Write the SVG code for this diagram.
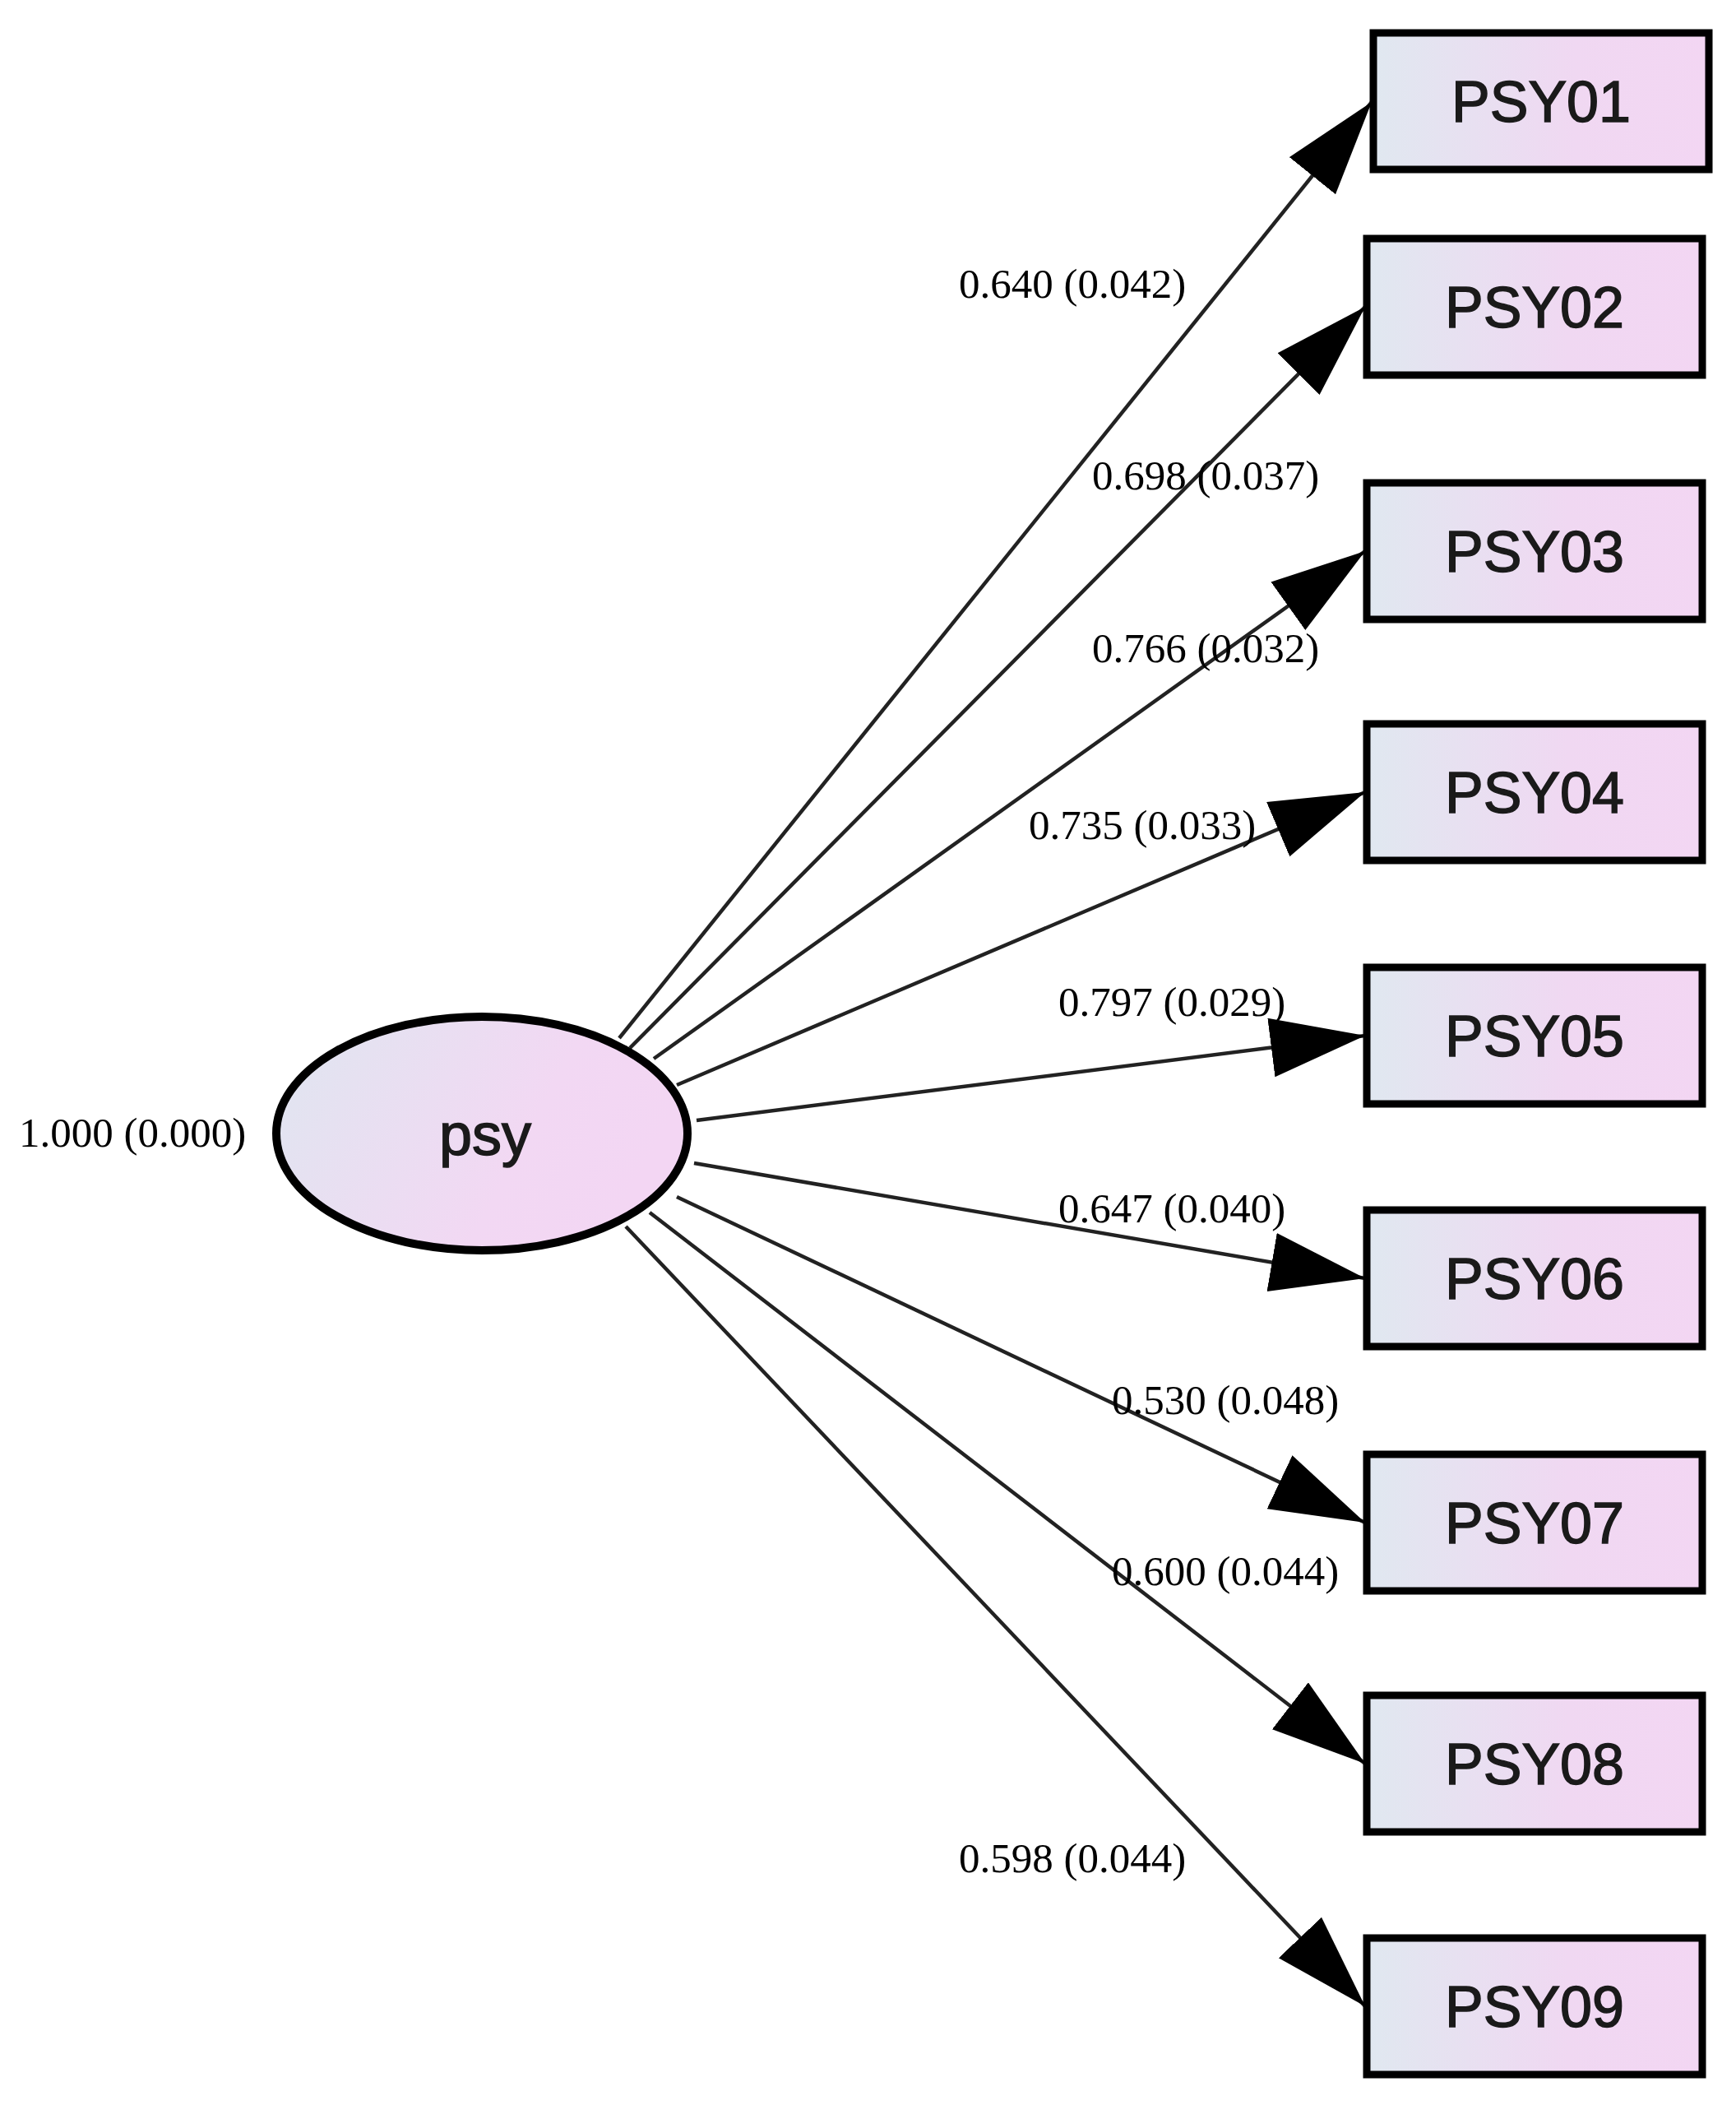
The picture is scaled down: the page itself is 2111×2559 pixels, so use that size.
<svg xmlns="http://www.w3.org/2000/svg" width="2111" height="2559" viewBox="0 0 2111 2559">
<defs>
<linearGradient id="g" x1="0" y1="0" x2="1" y2="0"><stop offset="0" stop-color="#e0e8f0"/><stop offset="0.6" stop-color="#f0d8f2"/><stop offset="1" stop-color="#f3d6f3"/></linearGradient>
<linearGradient id="ge" x1="0" y1="0" x2="1" y2="0.3"><stop offset="0" stop-color="#dfe6f0"/><stop offset="0.7" stop-color="#f2d8f3"/><stop offset="1" stop-color="#f3d6f3"/></linearGradient>
<marker id="ah" markerUnits="userSpaceOnUse" markerWidth="120" markerHeight="80" refX="115" refY="36" orient="auto"><path d="M0,0 L115,36 L0,72 Z" fill="#000"/></marker>
</defs>
<style>
.box{fill:url(#g);stroke:#000;stroke-width:9}
.lbl{font-family:"Liberation Sans",Arial,sans-serif;font-size:70px;text-anchor:middle;fill:#1a1a1a;stroke:#1a1a1a;stroke-width:1.5}
.est{font-family:"Liberation Serif","Times New Roman",serif;font-size:51px;fill:#000}
.c{stroke:#222;stroke-width:4.5;fill:none;marker-end:url(#ah)}
</style>
<g id="connectors">
<line class="c" x1="753" y1="1262" x2="1668" y2="124"/>
<line class="c" x1="766" y1="1274" x2="1660" y2="373"/>
<line class="c" x1="795" y1="1287" x2="1660" y2="670"/>
<line class="c" x1="823" y1="1319" x2="1660" y2="963"/>
<line class="c" x1="847" y1="1362" x2="1660" y2="1259"/>
<line class="c" x1="844" y1="1414" x2="1660" y2="1554"/>
<line class="c" x1="823" y1="1455" x2="1660" y2="1851"/>
<line class="c" x1="790" y1="1474" x2="1660" y2="2144"/>
<line class="c" x1="761" y1="1491" x2="1660" y2="2439"/>
</g>
<g id="labels">
<text class="est" x="1166" y="362">0.640 (0.042)</text>
<text class="est" x="1328" y="595">0.698 (0.037)</text>
<text class="est" x="1328" y="805">0.766 (0.032)</text>
<text class="est" x="1251" y="1020">0.735 (0.033)</text>
<text class="est" x="1287" y="1235">0.797 (0.029)</text>
<text class="est" x="1287" y="1486">0.647 (0.040)</text>
<text class="est" x="1352" y="1719">0.530 (0.048)</text>
<text class="est" x="1352" y="1927">0.600 (0.044)</text>
<text class="est" x="1166" y="2276">0.598 (0.044)</text>
<text class="est" x="23" y="1394">1.000 (0.000)</text>
</g>
<g id="psy"><ellipse cx="586" cy="1378" rx="250" ry="142" fill="url(#ge)" stroke="#000" stroke-width="10"/><text class="lbl" x="590" y="1404" style="font-size:72px">psy</text></g>
<g id="PSY01"><rect class="box" x="1670" y="40" width="408" height="166"/><text class="lbl" x="1874" y="148">PSY01</text></g>
<g id="PSY02"><rect class="box" x="1662" y="290" width="408" height="166"/><text class="lbl" x="1866" y="398">PSY02</text></g>
<g id="PSY03"><rect class="box" x="1662" y="587" width="408" height="166"/><text class="lbl" x="1866" y="695">PSY03</text></g>
<g id="PSY04"><rect class="box" x="1662" y="880" width="408" height="166"/><text class="lbl" x="1866" y="988">PSY04</text></g>
<g id="PSY05"><rect class="box" x="1662" y="1176" width="408" height="166"/><text class="lbl" x="1866" y="1284">PSY05</text></g>
<g id="PSY06"><rect class="box" x="1662" y="1471" width="408" height="166"/><text class="lbl" x="1866" y="1579">PSY06</text></g>
<g id="PSY07"><rect class="box" x="1662" y="1768" width="408" height="166"/><text class="lbl" x="1866" y="1876">PSY07</text></g>
<g id="PSY08"><rect class="box" x="1662" y="2061" width="408" height="166"/><text class="lbl" x="1866" y="2169">PSY08</text></g>
<g id="PSY09"><rect class="box" x="1662" y="2356" width="408" height="166"/><text class="lbl" x="1866" y="2464">PSY09</text></g>
</svg>
